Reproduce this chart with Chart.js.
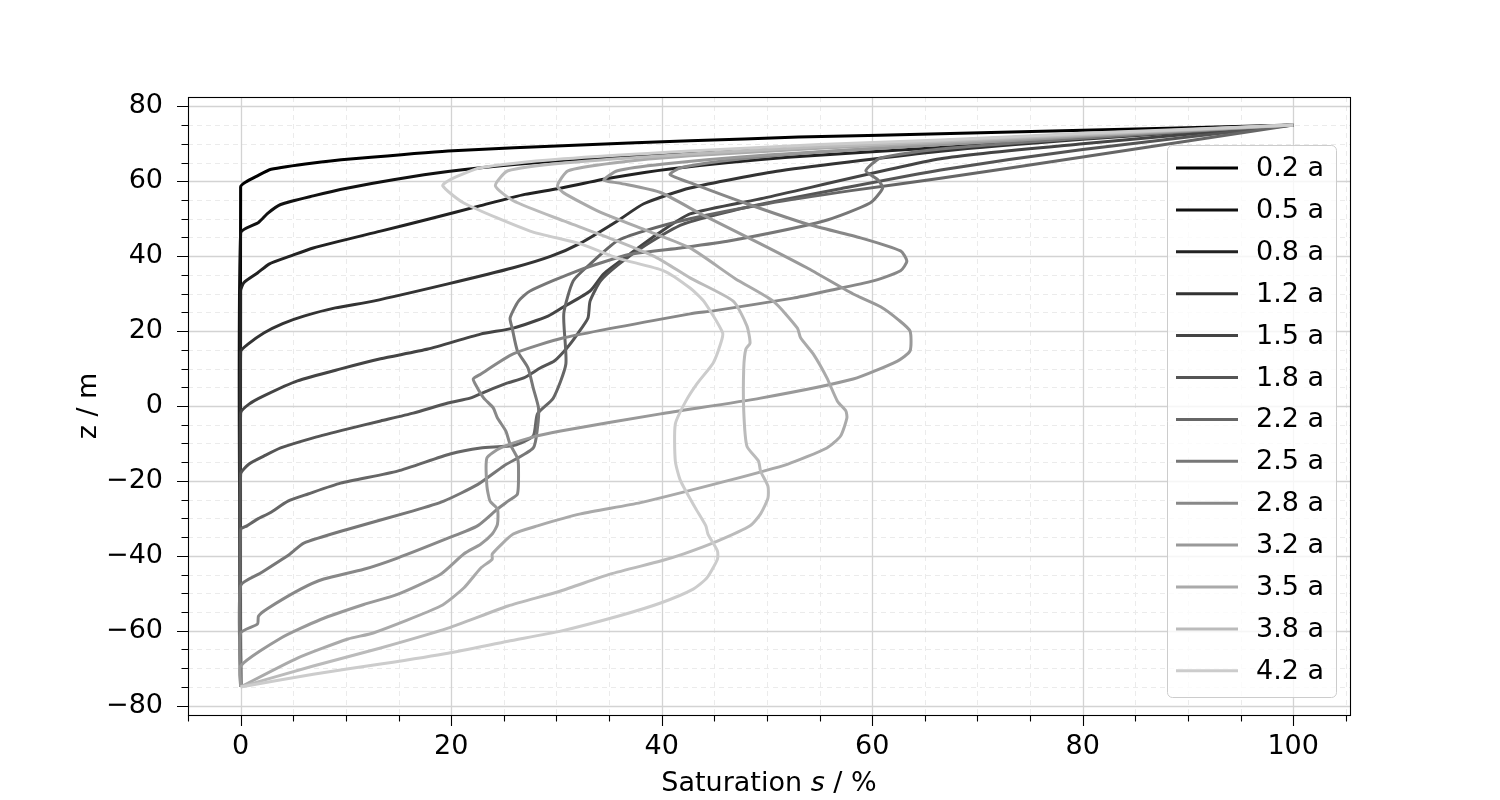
<!DOCTYPE html>
<html>
<head>
<meta charset="utf-8">
<script src="https://cdn.jsdelivr.net/npm/chart.js@4.4.0/dist/chart.umd.min.js"></script>
<style>
  html, body { margin: 0; padding: 0; background: #fff; }
  #wrap { width: 1500px; height: 800px; }
</style>
</head>
<body>
<div id="wrap"><canvas id="chart" width="1500" height="800"></canvas></div>
<script>
/* Saturation profiles s(z) at different times */

const timeLabels = ["0.2 a", "0.5 a", "0.8 a", "1.2 a", "1.5 a", "1.8 a", "2.2 a",
                    "2.5 a", "2.8 a", "3.2 a", "3.5 a", "3.8 a", "4.2 a"];

// [saturation %, z m]
const s02 = [[0,-75],[0,58.5],[0.5,59.8],[1.5,61.3],[2.9,63.2],[6.9,64.9],[10.7,66],[19.7,68.1],
  [32.3,69.7],[42.7,70.8],[53,71.8],[68.4,72.8],[80,73.6],[100,75]];
const s05 = [[0,-75],[0,46.2],[1.7,49],[2.6,51.5],[3.8,53.8],[6.9,56.1],[10.2,58.2],[14.5,60.4],
  [19.7,62.6],[26,64.5],[32.3,65.9],[42.7,67.4],[55,69.2],[66.5,70.8],[80,72.6],[100,75]];
const s08 = [[0,-75],[0,30.7],[0.3,32.9],[1.6,35.5],[2.7,37.9],[4.7,40],[6.9,42.2],[13.3,46.7],
  [18,50],[22.8,53.5],[27,56.5],[30.1,58],[35,60.8],[40.8,63.3],[52,66.4],[66.5,69],[80,71.5],[100,75]];
const s12 = [[0,-75],[0,14.5],[0.7,16.5],[2.2,19.5],[4,22],[6,24],[9,26.2],[12.6,28],[19.7,32.6],
  [25.9,36.9],[29.5,40],[32.3,43.5],[35.8,49.4],[38.3,54],[42.7,58.2],[51.3,62.8],[66.5,68],[80,71.2],[100,75]];
const s15 = [[0,-75],[0,-1.9],[0.8,0.5],[2.2,2.7],[5.4,6.7],[9.5,9.9],[13.3,12.6],[17.8,15.2],
  [22.8,19.2],[25.9,20.8],[29.2,24],[30.7,26.5],[33.2,30.7],[34.5,35.3],[37,40.6],[39.6,45.9],
  [42.7,51.3],[49.7,55.5],[66.5,66],[80,70],[100,75]];
const s18 = [[0,-75],[0,-18.2],[0.8,-15.5],[2.2,-13.4],[3.8,-11.2],[6.9,-8.5],[10.2,-6.1],[13.3,-4],
  [16.4,-1.9],[19.7,0.8],[21.8,2.1],[23.4,4],[25.3,6.1],[26.9,7.5],[28.5,10.2],[29.8,12],[31,15.5],
  [32,19.2],[33,23.5],[33.2,28],[34.2,33.4],[36,38],[38.5,43],[42,48.5],[48,53],[57,58],[66.5,63],
  [80,68.5],[100,75]];
const s22 = [[0,-75],[0,-33],[0.6,-32],[1.6,-30.2],[2.8,-28.5],[4.5,-25.4],[6.4,-23.5],[9.5,-20.6],
  [14.9,-17.4],[19.9,-12.8],[22.8,-11.2],[26,-10.5],[27.8,-8],[28.2,-2.1],[29.7,2.1],[30.9,11.2],
  [30.7,24.6],[31.6,33.4],[33.2,37.9],[35.8,44.1],[38.3,46.7],[42.7,50],[50,54],[58,57.5],[66.5,60.8],
  [80,66.5],[100,75]];
const s25 = [[0,-75],[0,-48],[1.9,-44.6],[4.7,-39.5],[6,-36.6],[10.2,-32.9],[16.4,-28],[19.3,-25.4],
  [22.5,-21],[25,-16],[27.8,-11.2],[28.2,-5.9],[28.3,-0.5],[27.8,4.8],[27.3,10.2],[26.3,14.7],
  [25.8,20.8],[25.6,23.5],[26.4,28],[27.5,30.7],[32,36.1],[37,40.5],[41.8,42.2],[46.5,44.1],
  [55.4,49.4],[59.8,54.2],[61,58.2],[60.5,60.5],[59.4,62.8],[60.8,66.2],[66.5,68.6],[80,71.5],[100,75]];
const s28 = [[0,-75],[0,-60.6],[1.6,-58.2],[1.7,-56.1],[2.5,-54.2],[5.7,-48.9],[7.9,-46.2],[11.7,-43.6],
  [14.9,-40.6],[19.7,-35.3],[22.5,-32],[24.4,-27.5],[25.4,-25.4],[26.3,-23.5],[26.4,-16.6],[26.3,-13.9],
  [25.6,-10.2],[25.2,-6.7],[24.4,-3.2],[24,-0.5],[23.1,2.1],[22.5,4.8],[22.1,7.2],[22.8,8.5],[25.9,13.9],
  [30.7,18.2],[42.7,24.6],[44.9,25.4],[52.5,28.8],[55.7,30.7],[60.1,33.4],[62.7,36.1],[63.3,38.7],
  [62.7,41.4],[58.9,44.9],[53.8,48.6],[48.1,54],[43,59.3],[40.8,61.8],[41.8,63.6],[46,65.5],[55,67.8],
  [66.5,69.8],[80,72],[100,75]];
const s32 = [[0,-75],[0,-69.4],[3.8,-62],[7.6,-57],[11.7,-53],[14.9,-50.3],[19,-44.9],[21.2,-39.5],
  [22.8,-36.9],[23.9,-34.2],[24.4,-31.6],[24.4,-27.5],[23.7,-25.4],[23.4,-21.4],[23.4,-13.9],
  [24.7,-11.2],[27.5,-8.5],[30.4,-6.7],[39.9,-2.1],[49.4,2.1],[58.2,7.2],[62.4,12],[63.6,14.7],
  [63.6,20],[62.5,23],[60.8,26.5],[58.2,29.9],[53.8,36.9],[49.4,43.3],[43.7,51.3],[39.9,57],
  [36,59.5],[34.5,60.3],[35.8,62.8],[40.2,64.6],[50,67],[66.5,69.8],[80,72],[100,75]];
const s35 = [[0,-75],[5.4,-67.3],[10.2,-62.2],[12.6,-60.6],[19,-53.4],[21.2,-48.6],[22.8,-43.3],
  [23.9,-40.9],[23.9,-39.5],[25.9,-34.2],[28.2,-32],[32.3,-28.8],[38,-25.8],[46.2,-20],[52,-15.5],
  [55.7,-11.2],[57,-8],[57.6,-3.2],[57.5,-1.3],[56.7,1.3],[55.7,7.5],[54.4,13.9],[53.2,18.2],
  [52.9,20.8],[50.6,28],[47,34],[42.7,42.2],[38.7,46.7],[33.9,52.1],[30.7,56.9],[30.1,58.8],
  [31.1,62.8],[35.4,64.9],[42.7,66.8],[55,68.8],[66.5,70.3],[80,72.3],[100,75]];
const s38 = [[0,-75],[6.9,-69.4],[13.3,-64.6],[19.7,-59.3],[25.4,-53.4],[30.4,-49.4],[35.1,-44.9],
  [39.9,-41.4],[42.1,-39.5],[45.3,-36.1],[48.4,-32],[49.4,-28.8],[50.1,-24.6],[50.1,-21.4],
  [49.4,-17.4],[49.2,-14.7],[48.1,-10.7],[47.8,-1.3],[47.8,10.1],[48,15.2],[48.4,16.8],[48.1,21.4],
  [46.8,28],[42.7,34.2],[39.6,39.5],[35.8,44],[30.7,49.4],[25.9,54.8],[24.2,58.8],[25.4,62.8],
  [30.7,64.9],[42.7,67.3],[55,69.2],[66.5,70.7],[80,72.5],[100,75]];
const s42 = [[0,-75],[6.9,-71.6],[13.3,-68.9],[19.7,-66],[25.4,-62.8],[30.4,-60.1],[36,-56],
  [39.9,-52.6],[43,-48.9],[44.3,-45.9],[45.3,-40.9],[45.3,-38.7],[44.4,-34.2],[44.2,-32],[43.2,-27.2],
  [41.8,-20],[41.3,-14.7],[41.3,-4.8],[42.3,1.3],[43.4,6.1],[44.9,11.5],[45.6,16.6],[45.8,19.5],
  [44,28],[42.7,31.5],[40.2,36.1],[35.8,39.5],[32.3,43.3],[27.5,46.7],[21.2,54.2],[19.2,58.8],
  [20,60.6],[22.8,63.6],[30.7,66],[42.7,68.1],[55,69.8],[66.5,71],[80,72.8],[100,75]];

const profiles = [s02, s05, s08, s12, s15, s18, s22, s25, s28, s32, s35, s38, s42];

const sTicks = [0, 20, 40, 60, 80, 100];
const zTicks = [-80, -60, -40, -20, 0, 20, 40, 60, 80];

const FONT = '"DejaVu Sans", sans-serif';
const grey = (i) => {
  const g = Math.round(i * 204 / (profiles.length - 1));
  return `rgb(${g},${g},${g})`;
};
const fmt = (v) => (v < 0 ? "\u2212" : "") + Math.abs(v);

function range(a, b, step) {
  const out = [];
  for (let v = a; v <= b + 1e-9; v += step) out.push(v);
  return out;
}

// grid, spines, ticks, axis titles and legend in matplotlib style
const mplLook = {
  id: "mplLook",
  beforeDatasetsDraw(chart) {
    const { ctx, chartArea: a, scales: { x, y } } = chart;
    const sMinor = range(-5, 105, 5).filter((v) => v % 20 !== 0);
    const zMinor = range(-80, 80, 5).filter((v) => v % 20 !== 0);
    ctx.save();
    ctx.lineWidth = 1;
    ctx.strokeStyle = "#ebebeb";
    ctx.setLineDash([5, 4]);
    ctx.beginPath();
    sMinor.forEach((v) => {
      const px = Math.round(x.getPixelForValue(v)) + 0.5;
      ctx.moveTo(px, a.top); ctx.lineTo(px, a.bottom);
    });
    zMinor.forEach((v) => {
      const py = Math.round(y.getPixelForValue(v)) + 0.5;
      ctx.moveTo(a.left, py); ctx.lineTo(a.right, py);
    });
    ctx.stroke();
    ctx.setLineDash([]);
    ctx.strokeStyle = "#d3d3d3";
    ctx.lineWidth = 1.3;
    ctx.beginPath();
    sTicks.forEach((v) => {
      const px = Math.round(x.getPixelForValue(v)) + 0.5;
      ctx.moveTo(px, a.top); ctx.lineTo(px, a.bottom);
    });
    zTicks.forEach((v) => {
      const py = Math.round(y.getPixelForValue(v)) + 0.5;
      ctx.moveTo(a.left, py); ctx.lineTo(a.right, py);
    });
    ctx.stroke();
    ctx.restore();
  },
  afterDatasetsDraw(chart) {
    const { ctx, chartArea: a, scales: { x, y } } = chart;
    ctx.save();
    // tick marks
    ctx.strokeStyle = "#000";
    ctx.lineWidth = 1.1;
    ctx.beginPath();
    range(-5, 105, 5).forEach((v) => {
      const px = Math.round(x.getPixelForValue(v)) + 0.5;
      const len = v % 20 === 0 ? 11 : 6.5;
      ctx.moveTo(px, a.bottom); ctx.lineTo(px, a.bottom + len);
    });
    range(-80, 80, 5).forEach((v) => {
      const py = Math.round(y.getPixelForValue(v)) + 0.5;
      const len = v % 20 === 0 ? 11 : 6.5;
      ctx.moveTo(a.left, py); ctx.lineTo(a.left - len, py);
    });
    ctx.stroke();
    // spines
    ctx.strokeRect(Math.round(a.left) + 0.5, Math.round(a.top) + 0.5,
      Math.round(a.right - a.left), Math.round(a.bottom - a.top));

    // axis titles
    ctx.fillStyle = "#000";
    ctx.textBaseline = "alphabetic";
    const parts = [["Saturation ", "normal"], ["s", "italic"], [" / %", "normal"]];
    let total = 0;
    parts.forEach((p) => { ctx.font = `${p[1]} 27px ${FONT}`; total += ctx.measureText(p[0]).width; });
    let cx = (a.left + a.right) / 2 - total / 2;
    parts.forEach((p) => {
      ctx.font = `${p[1]} 27px ${FONT}`;
      ctx.fillText(p[0], cx, 791);
      cx += ctx.measureText(p[0]).width;
    });
    ctx.save();
    ctx.translate(96, (a.top + a.bottom) / 2);
    ctx.rotate(-Math.PI / 2);
    ctx.textAlign = "center";
    ctx.font = `27px ${FONT}`;
    ctx.fillText("z / m", 0, 0);
    ctx.restore();

    // legend
    const lx = 1167, ly = 145, lw = 169, lh = 552, r = 5;
    ctx.beginPath();
    ctx.roundRect(lx + 0.5, ly + 0.5, lw, lh, r);
    ctx.fillStyle = "rgba(255,255,255,0.8)";
    ctx.fill();
    ctx.strokeStyle = "#cccccc";
    ctx.lineWidth = 1;
    ctx.stroke();
    ctx.font = `27px ${FONT}`;
    ctx.textBaseline = "middle";
    ctx.textAlign = "left";
    timeLabels.forEach((lab, i) => {
      const yy = 168 + i * 41.9;
      ctx.strokeStyle = grey(i);
      ctx.lineWidth = 3;
      ctx.beginPath();
      ctx.moveTo(1176, yy); ctx.lineTo(1238, yy);
      ctx.stroke();
      ctx.fillStyle = "#000";
      ctx.fillText(lab, 1256, yy + 1);
    });
    ctx.restore();
  },
};

const datasets = profiles.map((p, i) => ({
  label: timeLabels[i],
  data: p.map(([s, z]) => ({ x: s, y: z })),
  showLine: true,
  borderColor: grey(i),
  backgroundColor: grey(i),
  borderWidth: 3,
  pointRadius: 0,
  tension: 0.2,
  order: profiles.length - i,
}));

Chart.defaults.font.family = FONT;
Chart.defaults.color = "#000";

new Chart(document.getElementById("chart"), {
  type: "scatter",
  data: { datasets },
  options: {
    responsive: false,
    devicePixelRatio: 1,
    animation: false,
    layout: { padding: { left: 0, top: 97, right: 150, bottom: 0 } },
    plugins: { legend: { display: false }, tooltip: { enabled: false } },
    scales: {
      x: {
        type: "linear",
        min: -5.0,
        max: 105.4,
        grid: { display: false, drawTicks: false },
        border: { display: false },
        afterBuildTicks: (s) => { s.ticks = sTicks.map((v) => ({ value: v })); },
        afterFit: (s) => { s.height = 85; },
        ticks: { font: { size: 27 }, color: "#000", padding: 16, maxRotation: 0, autoSkip: false, callback: (v) => fmt(v) },
      },
      y: {
        type: "linear",
        min: -82.5,
        max: 82.5,
        grid: { display: false, drawTicks: false },
        border: { display: false },
        afterBuildTicks: (s) => { s.ticks = zTicks.map((v) => ({ value: v })); },
        afterFit: (s) => { s.width = 188; },
        ticks: { font: { size: 27 }, color: "#000", padding: 25, autoSkip: false, callback: (v) => fmt(v) },
      },
    },
  },
  plugins: [mplLook],
});
</script>
</body>
</html>
